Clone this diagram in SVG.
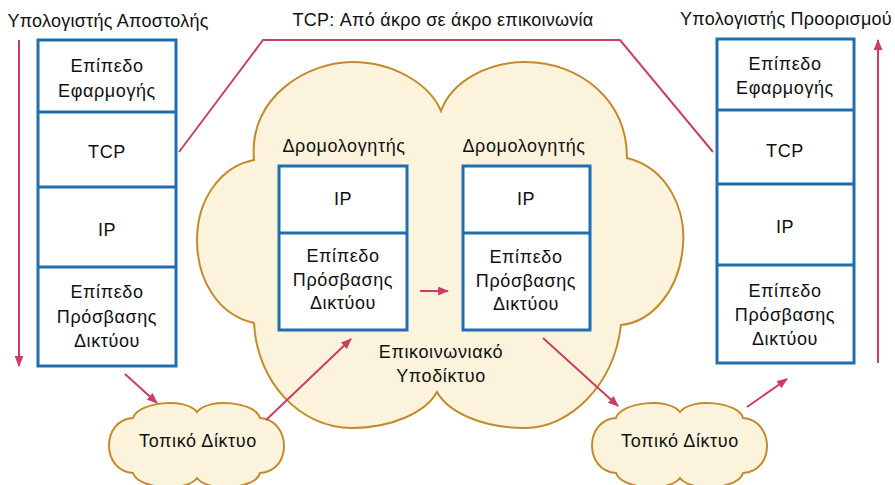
<svg xmlns="http://www.w3.org/2000/svg" width="895" height="485" viewBox="0 0 895 485">
<defs>
<style>
.t{font-family:"Liberation Sans",Arial,sans-serif;font-size:18px;letter-spacing:0.6px;fill:#111;text-anchor:middle}
.h{letter-spacing:0.25px}
.box{fill:#fff;stroke:#1F6FB0;stroke-width:3}
.div{stroke:#1F6FB0;stroke-width:3}
.cloud{fill:#FCF3DC;stroke:#C48A2C;stroke-width:2}
.arr{stroke:#CC3D64;stroke-width:2;fill:none}
.tcp{stroke:#C4445E;stroke-width:2;fill:none}
</style>
<marker id="ah" viewBox="0 0 10 8" markerWidth="11" markerHeight="9" refX="9" refY="4" orient="auto" markerUnits="userSpaceOnUse">
<path d="M0,0 L10,4 L0,8 z" fill="#CC3D64"/>
</marker>
<path id="lcloud" d="M133,418 C138,402 186,397 197,412 C208,397 256,402 260,418 C291,420 293,471 260,473 C256,489 208,493 197,478 C186,493 138,489 133,473 C101,471 101,420 133,418 Z"/>
</defs>

<g id="subnet">
<path class="cloud" d="M254,160 C248,95 310,62 352,62 C395,62 430,85 441,111 C452,80 490,62 525,62 C580,62 627,100 627,158 C668,168 686,210 683,245 C680,290 652,322 621,325 C614,385 570,428 525,428 C482,428 448,412 437,392 C426,412 392,428 352,428 C300,428 257,382 254,323 C218,315 197,280 197,240 C197,198 222,166 254,160 Z"/>
<text class="t" x="441" y="358">Επικοινωνιακό</text>
<text class="t" x="441" y="382">Υποδίκτυο</text>
</g>

<g id="lan-left">
<use href="#lcloud" class="cloud"/>
<text class="t" x="198" y="447">Τοπικό Δίκτυο</text>
</g>
<g id="lan-right">
<use href="#lcloud" class="cloud" transform="translate(483,0)"/>
<text class="t" x="680" y="447">Τοπικό Δίκτυο</text>
</g>

<g id="sender">
<text class="t h" x="108" y="27">Υπολογιστής Αποστολής</text>
<rect class="box" x="38" y="40" width="138" height="326"/>
<line class="div" x1="38" y1="112" x2="176" y2="112"/>
<line class="div" x1="38" y1="187" x2="176" y2="187"/>
<line class="div" x1="38" y1="267" x2="176" y2="267"/>
<text class="t" x="107" y="72">Επίπεδο</text>
<text class="t" x="107" y="97">Εφαρμογής</text>
<text class="t" x="107" y="158">TCP</text>
<text class="t" x="107" y="236">IP</text>
<text class="t" x="107" y="298">Επίπεδο</text>
<text class="t" x="107" y="323">Πρόσβασης</text>
<text class="t" x="107" y="347">Δικτύου</text>
</g>

<g id="receiver">
<text class="t h" x="786" y="25">Υπολογιστής Προορισμού</text>
<rect class="box" x="717" y="39" width="137" height="324"/>
<line class="div" x1="717" y1="110" x2="854" y2="110"/>
<line class="div" x1="717" y1="184" x2="854" y2="184"/>
<line class="div" x1="717" y1="265" x2="854" y2="265"/>
<text class="t" x="785" y="70">Επίπεδο</text>
<text class="t" x="785" y="94">Εφαρμογής</text>
<text class="t" x="785" y="157">TCP</text>
<text class="t" x="785" y="233">IP</text>
<text class="t" x="785" y="297">Επίπεδο</text>
<text class="t" x="785" y="321">Πρόσβασης</text>
<text class="t" x="785" y="345">Δικτύου</text>
</g>

<g id="router1">
<text class="t" x="344" y="152">Δρομολογητής</text>
<rect class="box" x="279" y="166" width="128" height="164"/>
<line class="div" x1="279" y1="233" x2="407" y2="233"/>
<text class="t" x="343" y="205">IP</text>
<text class="t" x="343" y="262">Επίπεδο</text>
<text class="t" x="343" y="286">Πρόσβασης</text>
<text class="t" x="343" y="309">Δικτύου</text>
</g>

<g id="router2">
<text class="t" x="524" y="152">Δρομολογητής</text>
<rect class="box" x="463" y="166" width="127" height="164"/>
<line class="div" x1="463" y1="233" x2="590" y2="233"/>
<text class="t" x="526" y="205">IP</text>
<text class="t" x="526" y="263">Επίπεδο</text>
<text class="t" x="526" y="287">Πρόσβασης</text>
<text class="t" x="526" y="310">Δικτύου</text>
</g>

<g id="connectors">
<text class="t h" x="443" y="26">TCP: Από άκρο σε άκρο επικοινωνία</text>
<polyline class="tcp" points="179,152 263,40 620,40 713,152"/>
<line class="arr" x1="19" y1="40" x2="19" y2="366" marker-end="url(#ah)"/>
<line class="arr" x1="878" y1="363" x2="878" y2="40" marker-end="url(#ah)"/>
<line class="arr" x1="125" y1="374" x2="157" y2="403" marker-end="url(#ah)"/>
<line class="arr" x1="266" y1="420" x2="351" y2="339" marker-end="url(#ah)"/>
<line class="arr" x1="420" y1="291" x2="448" y2="291" marker-end="url(#ah)"/>
<line class="arr" x1="543" y1="338" x2="618" y2="406" marker-end="url(#ah)"/>
<line class="arr" x1="747" y1="407" x2="787" y2="379" marker-end="url(#ah)"/>
</g>
</svg>
